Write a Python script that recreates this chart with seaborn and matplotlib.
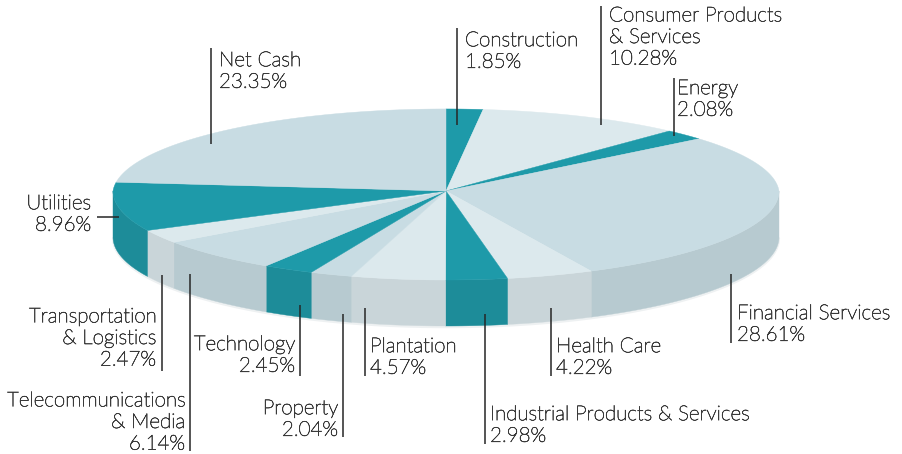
import numpy as np
import matplotlib
matplotlib.use('Agg')
import matplotlib.pyplot as plt
import matplotlib.patheffects as pe
import seaborn as sns

# clockwise from 12 o'clock
sectors = ['Construction', 'Consumer Products\n& Services', 'Energy', 'Financial Services', 'Health Care',
           'Industrial Products & Services', 'Plantation', 'Property', 'Technology',
           'Telecommunications\n& Media', 'Transportation\n& Logistics', 'Utilities', 'Net Cash']
shares = [1.85, 10.28, 2.08, 28.61, 4.22, 2.98, 4.57, 2.04, 2.45, 6.14, 2.47, 8.96, 23.35]
tones = [0, 2, 0, 1, 2, 0, 2, 1, 0, 1, 2, 0, 1]

top_colors = sns.color_palette(['#1e9aa9', '#c8dce3', '#dce9ed'])
side_colors = sns.color_palette(['#1d8c99', '#b7cad0', '#c9d5d9'])

# pie geometry in pixels
apex_x, apex_y = 446, 191
rx = 333
ry_back, ry_front = 85.4, 89
squeeze = 0.041   # perspective on the far half
depth = 46

# label layout: anchor x, centre y of the block, alignment, leader line
layout = {
    'Construction': (465, 51, 'left', (457, 28, 457, 125)),
    'Consumer Products\n& Services': (609, 37, 'left', (601, 6, 601, 125)),
    'Energy': (677, 99, 'left', (674, 78, 674, 136)),
    'Financial Services': (737, 324, 'left', (731, 274, 731, 343)),
    'Health Care': (556, 357, 'left', (551, 308, 551, 376)),
    'Industrial Products & Services': (490, 425, 'left', (485, 314, 485, 444)),
    'Plantation': (370, 357, 'left', (365, 308, 365, 376)),
    'Property': (338, 419, 'right', (343, 314, 343, 437)),
    'Technology': (295, 355, 'right', (300, 305, 300, 376)),
    'Telecommunications\n& Media': (185, 422, 'right', (190, 274, 190, 451)),
    'Transportation\n& Logistics': (156, 338, 'right', (162, 275, 162, 371)),
    'Utilities': (91, 214, 'right', (97, 217, 119, 217)),
    'Net Cash': (219, 71, 'left', (211, 48, 211, 144)),
}

sns.set_theme(style='white')
plt.rcParams['font.family'] = ['Lato', 'DejaVu Sans']

fig = plt.figure(figsize=(9.02, 4.54), dpi=100)
ax = fig.add_axes([0, 0, 1, 1])
ax.set_xlim(0, 902)
ax.set_ylim(454, 0)
ax.axis('off')

edges = np.cumsum([0] + shares) / sum(shares) * 2 * np.pi


def rim(theta):
    s, c = np.sin(theta), np.cos(theta)
    far = c > 0
    d = np.where(far, 1 + squeeze * c, 1.0)
    x = apex_x + rx * s / d
    y = apex_y - np.where(far, ry_back, ry_front) * c / d
    return x, y


# faint shadow under the wall
t = np.linspace(np.pi / 2, 3 * np.pi / 2, 200)
sx, sy = rim(t)
ax.plot(sx, sy + depth + 1.2, color='#eef1f2', lw=1.5, zorder=1)

for i, share in enumerate(shares):
    a, b = edges[i], edges[i + 1]
    t = np.linspace(a, b, 80)
    x, y = rim(t)
    # wall only on the front half
    lo, hi = max(a, np.pi / 2), min(b, 3 * np.pi / 2)
    if hi > lo:
        tw = np.linspace(lo, hi, 80)
        wx, wy = rim(tw)
        ax.fill(np.r_[wx, wx[::-1]], np.r_[wy, wy[::-1] + depth],
                color=side_colors[tones[i]], lw=0.3, zorder=2)
    ax.fill(np.r_[apex_x, x], np.r_[apex_y, y], color=top_colors[tones[i]], lw=0.3, zorder=3)

for name, share in zip(sectors, shares):
    tx, ty, align, (x0, y0, x1, y1) = layout[name]
    ax.plot([x0, x1], [y0, y1], color='#262626', lw=1.1, solid_capstyle='butt', zorder=4)
    label = ax.text(tx, ty, f'{name}\n{share:.2f}%', ha=align, va='center', ma=align,
                    fontsize=14.8, fontweight='light', color='#3a3a3a', linespacing=1.1, zorder=5)
    # the light cut comes out too pale, thicken it a little
    label.set_path_effects([pe.withStroke(linewidth=0.45, foreground='#3a3a3a')])

fig.savefig('out.png', dpi=100)
